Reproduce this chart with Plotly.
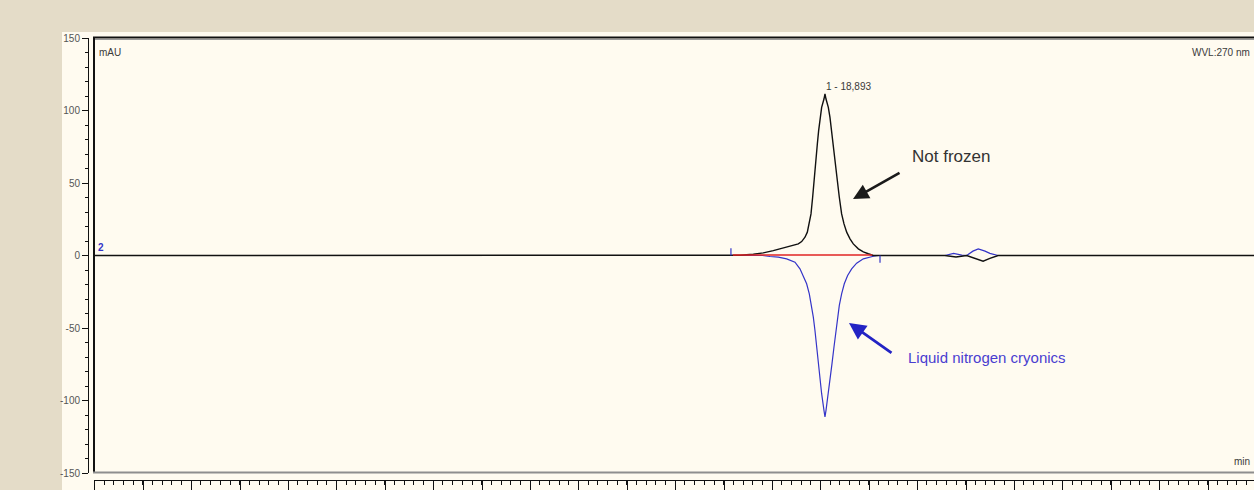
import plotly.graph_objects as go

# ---------------- data ----------------
# Trace "Not frozen" (black), retention time in min, absorbance in mAU
time_not_frozen = [3.79, 16.95, 17.00, 17.137, 17.412, 17.619, 17.825, 18.032, 18.204, 18.342,
                   18.411, 18.480, 18.528, 18.569, 18.604, 18.638, 18.673, 18.700, 18.735,
                   18.762, 18.790, 18.824, 18.872, 18.893, 18.914, 18.962, 18.996, 19.031,
                   19.065, 19.106, 19.148, 19.189, 19.237, 19.286, 19.341, 19.410, 19.478,
                   19.582, 19.685, 19.788, 19.892, 21.37, 21.60, 21.82, 21.95, 22.16, 22.30,
                   22.47, 27.76]
abs_not_frozen = [0.0, 0.0, 0.0, 0.2, 0.9, 1.8, 3.4, 5.1, 6.4, 8.0,
                  9.6, 12.6, 16.1, 21.8, 28.7, 40.2, 51.7, 63.1, 76.9,
                  86.1, 95.3, 102.2, 107.9, 111.4, 107.9, 102.2, 95.3, 86.1,
                  76.9, 63.1, 51.7, 40.2, 28.7, 21.8, 16.1, 11.5, 8.0,
                  4.6, 2.5, 1.2, 0.0, 0.0, -1.0, 0.0, -1.5, -3.9, -2.0,
                  0.0, 0.0]

# Trace "Liquid nitrogen cryonics" (blue)
time_ln2 = [3.79, 17.60, 17.757, 17.929, 18.101, 18.273, 18.376, 18.445, 18.514, 18.569,
            18.618, 18.652, 18.686, 18.721, 18.755, 18.790, 18.824, 18.872, 18.893,
            18.914, 18.962, 18.996, 19.038, 19.079, 19.120, 19.155, 19.189, 19.237,
            19.292, 19.361, 19.444, 19.547, 19.685, 19.892, 20.00, 21.37, 21.55, 21.72,
            21.82, 21.95, 22.06, 22.20, 22.30, 22.47, 27.76]
abs_ln2 = [0.0, 0.0, -0.7, -1.1, -2.3, -4.6, -9.2, -13.8, -19.5, -26.4,
           -34.4, -42.5, -51.7, -63.1, -74.6, -86.1, -95.3, -106.8, -111.4,
           -106.8, -95.3, -86.1, -74.6, -63.1, -51.7, -42.5, -34.4, -26.4,
           -19.5, -13.8, -9.2, -5.3, -2.3, -0.5, 0.0, 0.0, 1.5, 0.3,
           0.0, 3.0, 4.6, 3.0, 1.5, 0.0, 0.0]

peak_time = 18.893
peak_label = "1 - 18,893"
peak_height = 111.4
integration_start, integration_end = 16.95, 20.03
baseline_start, baseline_end = 16.99, 19.87
baseline_level = 0.3

y_tick_values = [-150, -100, -50, 0, 50, 100, 150]
y_tick_labels = ["-150", "-100", "-50", "0", "50", "100", "150"]

label_not_frozen = "Not frozen"
label_ln2 = "Liquid nitrogen cryonics"

# ---------------- layout geometry ----------------
W, H = 1254, 490
ML, MR, MT, MB = 88, 0, 37, 10
PW, PH = W - ML - MR, H - MT - MB
X_MIN, X_MAX = 3.79, 27.757


def px(x):
    return (x - ML) / PW


def py(y):
    return (H - MB - y) / PH


BEIGE = "#E4DCC8"
CREAM = "#FFFBF0"
BLACK = "#111111"
BLUE = "#3434C8"
RED = "#E02424"
TXT = "#3A3A3A"
FONT = "Liberation Sans, Arial, sans-serif"
NARROW = "Liberation Sans Narrow, Arial Narrow, Liberation Sans, sans-serif"

fig = go.Figure()

fig.add_trace(go.Scatter(x=time_ln2, y=abs_ln2, mode="lines",
                         line=dict(color=BLUE, width=1.2), hoverinfo="skip",
                         showlegend=False))
fig.add_trace(go.Scatter(x=time_not_frozen, y=abs_not_frozen, mode="lines",
                         line=dict(color=BLACK, width=1.4), hoverinfo="skip",
                         showlegend=False))
# integration baseline
fig.add_trace(go.Scatter(x=[baseline_start, baseline_end], y=[baseline_level, baseline_level],
                         mode="lines", line=dict(color=RED, width=1.6),
                         hoverinfo="skip", showlegend=False))
# integration delimiters
fig.add_trace(go.Scatter(x=[integration_start, integration_start, None, integration_end, integration_end],
                         y=[0, 5, None, 0, -5], mode="lines",
                         line=dict(color=BLUE, width=1.2), hoverinfo="skip",
                         showlegend=False))

shapes = [
    # cream panel
    dict(type="rect", xref="paper", yref="paper", x0=px(62), x1=1.0, y0=py(H + 2), y1=py(32),
         fillcolor=CREAM, line=dict(width=0), layer="below"),
    # frame: top, left, bottom
    dict(type="line", xref="paper", yref="paper", x0=px(93), x1=1.0, y0=py(37.5), y1=py(37.5),
         line=dict(color=BLACK, width=2)),
    dict(type="line", xref="paper", yref="paper", x0=px(94), x1=1.0, y0=py(39.5), y1=py(39.5),
         line=dict(color="#9A9A9A", width=1)),
    dict(type="line", xref="paper", yref="paper", x0=px(94), x1=px(94), y0=py(473), y1=py(37),
         line=dict(color=BLACK, width=2)),
    dict(type="line", xref="paper", yref="paper", x0=px(93), x1=1.0, y0=py(472.5), y1=py(472.5),
         line=dict(color="#8E8E8E", width=2)),
]

annotations = [
    dict(text="mAU", xref="paper", yref="paper", x=px(97), y=py(52), xanchor="left",
         yanchor="middle", showarrow=False, font=dict(family=FONT, size=10, color=TXT)),
    dict(text="WVL:270 nm", xref="paper", yref="paper", x=px(1252), y=py(52), xanchor="right",
         yanchor="middle", showarrow=False, font=dict(family=FONT, size=10, color=TXT)),
    dict(text="min", xref="paper", yref="paper", x=px(1252), y=py(461), xanchor="right",
         yanchor="middle", showarrow=False, font=dict(family=FONT, size=10, color=TXT)),
    dict(text="<b>2</b>", xref="paper", yref="paper", x=px(96), y=py(247), xanchor="left",
         yanchor="middle", showarrow=False, font=dict(family=FONT, size=10, color=BLUE)),
    dict(text=peak_label, x=peak_time, y=peak_height + 5, xanchor="left", yanchor="middle",
         showarrow=False, xshift=-1, font=dict(family=FONT, size=10, color=TXT)),
    dict(text=label_not_frozen, x=20.649, y=68.5, xanchor="left", yanchor="middle",
         showarrow=False, font=dict(family=NARROW, size=17, color="#333333")),
    dict(text=label_ln2, x=20.567, y=-70.6, xanchor="left", yanchor="middle",
         showarrow=False, font=dict(family=NARROW, size=15, color="#4A3ED0")),
    # arrows
    dict(text="", x=19.472, y=38.9, ax=48, ay=-27, showarrow=True, arrowhead=2,
         arrowsize=1.2, arrowwidth=2.6, arrowcolor="#1A1A1A"),
    dict(text="", x=19.389, y=-46.5, ax=44, ay=31, showarrow=True, arrowhead=2,
         arrowsize=1.2, arrowwidth=2.8, arrowcolor="#2323C4"),
]

fig.update_layout(
    width=W, height=H,
    margin=dict(l=ML, r=MR, t=MT, b=MB, pad=0),
    paper_bgcolor=BEIGE, plot_bgcolor=CREAM,
    shapes=shapes, annotations=annotations,
    xaxis=dict(range=[X_MIN, X_MAX], domain=[px(94), 1.0], anchor="free", position=0,
               showgrid=False, zeroline=False, showline=True, linecolor=BLACK, linewidth=1,
               ticks="outside", ticklen=10, tickcolor=BLACK, tickwidth=1,
               tick0=3.81, dtick=1, showticklabels=False,
               minor=dict(ticks="outside", ticklen=4, dtick=0.2, tickcolor=BLACK, tickwidth=1)),
    yaxis=dict(range=[-150, 150], domain=[py(473), py(38)], anchor="free", position=0,
               showgrid=False, zeroline=False, showline=True, linecolor=BLACK, linewidth=1,
               ticks="outside", ticklen=6, tickcolor=BLACK, tickwidth=1,
               tickvals=y_tick_values, ticktext=y_tick_labels,
               tickfont=dict(family=FONT, size=10, color="#555555"),
               minor=dict(ticks="outside", ticklen=3, dtick=10, tickcolor=BLACK, tickwidth=1)),
)

fig.write_html("out.html", config={"displayModeBar": False},
               post_script="document.body.style.margin='0';")
